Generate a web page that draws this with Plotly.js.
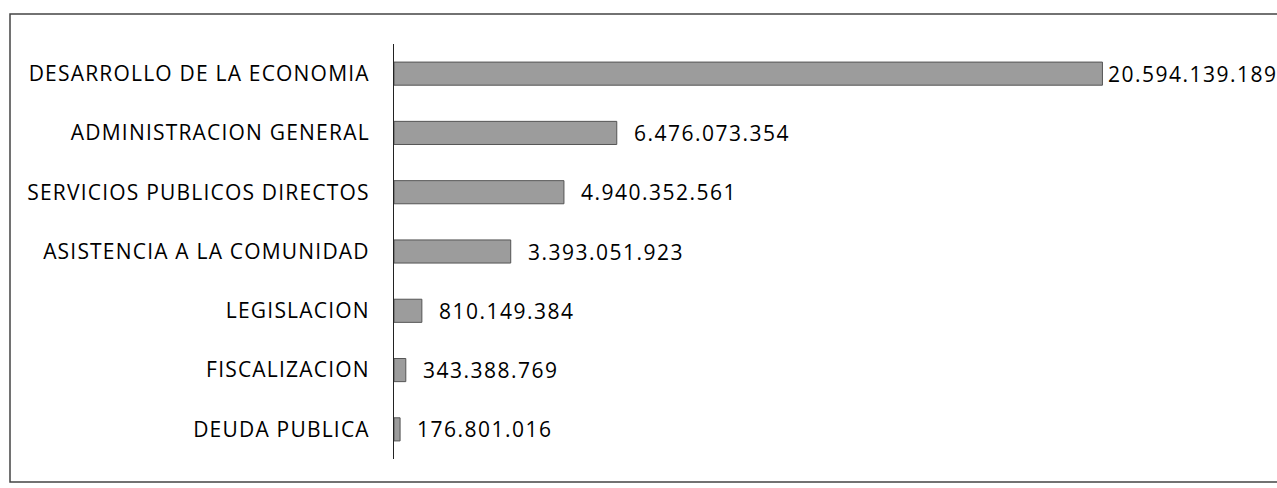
<!DOCTYPE html>
<html>
<head>
<meta charset="utf-8">
<script src="https://cdn.plot.ly/plotly-3.0.1.min.js"></script>
<style>
  html, body { margin: 0; padding: 0; background: #fff; }
  #chart { width: 1277px; height: 488px; }
  .ytick text { letter-spacing: 1.2px; }
  .annotation-text { letter-spacing: 1.5px; }
</style>
</head>
<body>
<div id="chart"></div>
<script>
// Data
const categories = [
  "DESARROLLO DE LA ECONOMIA",
  "ADMINISTRACION GENERAL",
  "SERVICIOS PUBLICOS DIRECTOS",
  "ASISTENCIA A LA COMUNIDAD",
  "LEGISLACION",
  "FISCALIZACION",
  "DEUDA PUBLICA"
];
const values = [
  20594139189,
  6476073354,
  4940352561,
  3393051923,
  810149384,
  343388769,
  176801016
];
const valueLabels = [
  "20.594.139.189",
  "6.476.073.354",
  "4.940.352.561",
  "3.393.051.923",
  "810.149.384",
  "343.388.769",
  "176.801.016"
];

// Layout geometry
const W = 1277, H = 488;
const M = { l: 394, r: 23, t: 44, b: 29 };
const plotW = W - M.l - M.r, plotH = H - M.t - M.b;
const px2x = p => (p - M.l) / plotW;
const px2y = p => (H - M.b - p) / plotH;

const trace = {
  type: 'bar',
  orientation: 'h',
  x: values,
  y: categories,
  marker: { color: '#9c9c9c', line: { color: '#555', width: 1 } },
  hoverinfo: 'none'
};

const annotations = categories.map((c, i) => ({
  x: values[i],
  y: c,
  xref: 'x',
  yref: 'y',
  text: valueLabels[i],
  showarrow: false,
  xanchor: 'left',
  yanchor: 'middle',
  xshift: i === 0 ? 4 : 15,
  font: { family: 'Open Sans, sans-serif', size: 21, color: '#000' }
}));

const layout = {
  width: W,
  height: H,
  margin: M,
  paper_bgcolor: '#fff',
  plot_bgcolor: '#fff',
  showlegend: false,
  bargap: 0.61,
  xaxis: {
    range: [0, 25e9],
    visible: false,
    fixedrange: true
  },
  yaxis: {
    autorange: 'reversed',
    showline: true,
    linecolor: '#222',
    linewidth: 1,
    ticks: '',
    showgrid: false,
    zeroline: false,
    ticklabelstandoff: 19,
    tickfont: { family: 'Open Sans, sans-serif', size: 21, color: '#000' },
    fixedrange: true
  },
  annotations: annotations,
  shapes: [{
    type: 'rect',
    xref: 'paper', yref: 'paper',
    x0: px2x(10), x1: px2x(1290),
    y0: px2y(482), y1: px2y(14),
    line: { color: '#444', width: 1.5 },
    fillcolor: 'rgba(0,0,0,0)',
    layer: 'below'
  }]
};

Plotly.newPlot('chart', [trace], layout, { displayModeBar: false, staticPlot: true });
</script>
</body>
</html>
